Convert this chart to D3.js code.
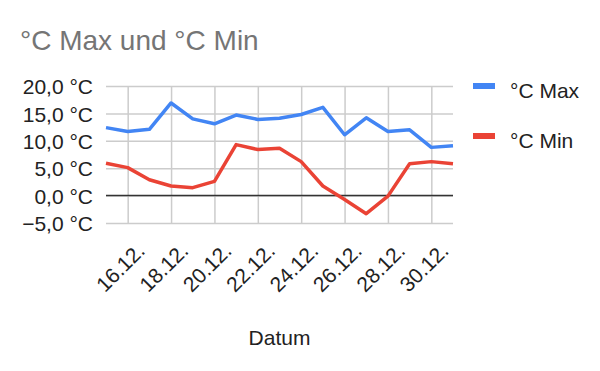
<!DOCTYPE html>
<html>
<head>
<meta charset="utf-8">
<script src="https://cdn.jsdelivr.net/npm/d3@7"></script>
<style>
  body { margin: 0; background: #fff; }
  svg { display: block; font-family: Arial, "Liberation Sans", sans-serif; }
</style>
</head>
<body>
<div id="chart"></div>
<script>
// Data
const days = ["15.12.", "16.12.", "17.12.", "18.12.", "19.12.", "20.12.", "21.12.", "22.12.", "23.12.",
  "24.12.", "25.12.", "26.12.", "27.12.", "28.12.", "29.12.", "30.12.", "31.12."];
const maxTemp = [12.4, 11.7, 12.1, 16.9, 14.0, 13.1, 14.7, 13.9, 14.1, 14.8, 16.1, 11.1, 14.2, 11.7, 12.0, 8.8, 9.1];
const minTemp = [5.9, 5.1, 2.9, 1.75, 1.45, 2.6, 9.3, 8.4, 8.65, 6.2, 1.75, -0.7, -3.3, -0.1, 5.8, 6.2, 5.8];
const yTicks = [-5, 0, 5, 10, 15, 20];
const xTicks = ["16.12.", "18.12.", "20.12.", "22.12.", "24.12.", "26.12.", "28.12.", "30.12."];
const seriesNames = ["°C Max", "°C Min"];
const colors = ["#4285f4", "#ea4335"];

const width = 600, height = 371;
const margin = {top: 86, right: 147, bottom: 148, left: 106};

const svg = d3.select("#chart").append("svg")
  .attr("width", width)
  .attr("height", height);

const x = d3.scalePoint()
  .domain(days)
  .range([margin.left, width - margin.right]);

const y = d3.scaleLinear()
  .domain([-5, 20])
  .range([height - margin.bottom, margin.top]);

const fmt = d => d3.format(".1f")(d).replace(".", ",") + " °C";

// title
svg.append("text")
  .attr("x", 20).attr("y", 50)
  .attr("font-size", 28)
  .attr("fill", "#757575")
  .text("°C Max und °C Min");

// horizontal grid + y labels
const yAxis = svg.append("g")
  .attr("transform", `translate(${margin.left},0)`)
  .call(d3.axisLeft(y).tickValues(yTicks).tickSize(-(width - margin.right - margin.left)).tickFormat(fmt).tickPadding(13));
yAxis.select(".domain").remove();
yAxis.selectAll(".tick line").attr("stroke", "#cccccc").attr("stroke-width", 1.5);
yAxis.selectAll(".tick text")
  .attr("font-size", 21)
  .attr("fill", "#222")
  .attr("dy", "0.37em");

// vertical grid + x labels
const xAxis = svg.append("g")
  .attr("transform", `translate(0,${height - margin.bottom})`)
  .call(d3.axisBottom(x).tickValues(xTicks).tickSize(-(height - margin.bottom - margin.top)));
xAxis.select(".domain").remove();
xAxis.selectAll(".tick line").attr("stroke", "#cccccc").attr("stroke-width", 1.5);
xAxis.selectAll(".tick text")
  .attr("font-size", 21)
  .attr("fill", "#222")
  .attr("text-anchor", "end")
  .attr("x", 0).attr("y", 0).attr("dy", 0)
  .attr("transform", "translate(18,29) rotate(-45)");

// zero line
svg.append("line")
  .attr("x1", margin.left).attr("x2", width - margin.right)
  .attr("y1", y(0)).attr("y2", y(0))
  .attr("stroke", "#333").attr("stroke-width", 1.5);

// lines
const line = d3.line()
  .x((d, i) => x(days[i]))
  .y(d => y(d));

[maxTemp, minTemp].forEach((vals, k) => {
  svg.append("path")
    .datum(vals)
    .attr("fill", "none")
    .attr("stroke", colors[k])
    .attr("stroke-width", 3.5)
    .attr("stroke-linejoin", "round")
    .attr("d", line);
});

// x axis title
svg.append("text")
  .attr("x", (margin.left + width - margin.right) / 2)
  .attr("y", 345)
  .attr("text-anchor", "middle")
  .attr("font-size", 21)
  .attr("fill", "#222")
  .text("Datum");

// legend
const legend = svg.append("g")
  .selectAll("g")
  .data(seriesNames)
  .join("g")
  .attr("transform", (d, i) => `translate(473,${86 + i * 50})`);
legend.append("rect")
  .attr("x", 0).attr("y", -3)
  .attr("width", 22).attr("height", 6)
  .attr("fill", (d, i) => colors[i]);
legend.append("text")
  .attr("x", 37).attr("y", 12)
  .attr("font-size", 21)
  .attr("fill", "#222")
  .text(d => d);
</script>
</body>
</html>
